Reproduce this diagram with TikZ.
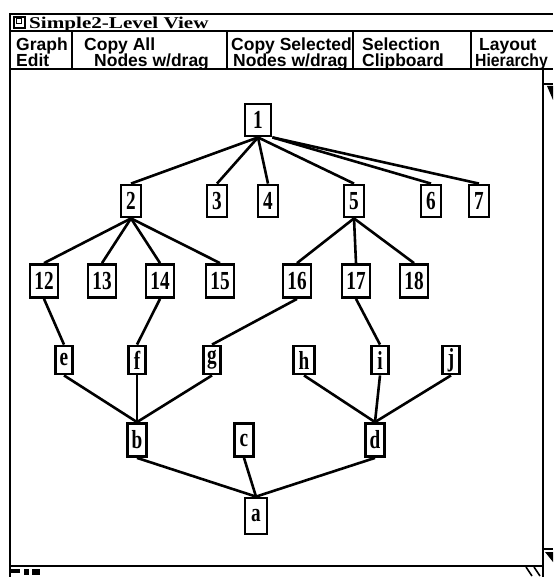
\documentclass[tikz,border=0pt]{standalone}
\usepackage{graphicx}
\usepackage{fontspec}
\setmainfont{Liberation Serif}
\newfontfamily\menufont{Liberation Sans}
\newcommand\nfont{\fontsize{26}{26}\selectfont\bfseries}
\newcommand\lbl[1]{\scalebox{0.74}[1]{#1}}
\begin{document}
\begin{tikzpicture}[x=1pt,y=-1pt,
  frame/.style={line width=2pt},
  nd/.style={draw, line width=2.8pt, fill=white, inner sep=0pt, font=\nfont},
  nA/.style={nd, minimum width=20pt, minimum height=32pt},
  nB/.style={nd, minimum width=28pt, minimum height=33pt},
  nC/.style={nd, minimum width=17pt, minimum height=28pt},
  nD/.style={nd, minimum width=19pt, minimum height=33pt},
  edge/.style={line width=2.6pt},
  menu/.style={font=\menufont\fontsize{17.5}{17.5}\selectfont\bfseries, inner sep=0pt, anchor=base west},
  ttl/.style={font=\fontsize{16.5}{16.5}\selectfont\bfseries, inner sep=0pt, anchor=base west}]
\useasboundingbox (0,0) rectangle (553,577);
\clip (0,0) rectangle (553,577);

% window frame
\draw[frame, line width=1.6pt] (10,577) -- (10,14) -- (553,14);
\draw[frame, line width=1.4pt] (10,31) -- (553,31);
\draw[frame, line width=2.6pt] (10,69) -- (553,69);
\draw[frame, line width=2.6pt] (10,69) -- (10,577);
\draw[frame] (72,31) -- (72,69);
\draw[frame] (227,31) -- (227,69);
\draw[frame] (353,31) -- (353,69);
\draw[frame] (471,31) -- (471,69);
\draw[frame] (10,566) -- (543,566);
\draw[frame] (543,69) -- (543,577);

% title icon and text
\draw[line width=1.2pt] (14,17) rectangle (25,28);
\draw[line width=1pt] (16,19) rectangle (21,24);
\node[ttl] (title) at (29,28.5) {\scalebox{1.28}[1]{Simple2-Level View}};

% menu
\node[menu] (mgraph) at (16,51) {Graph};
\node[menu] (medit) at (16,67) {Edit};
\node[menu] (mcopyall) at (84,51) {Copy All};
\node[menu] (mnodes1) at (94,67) {Nodes w/drag};
\node[menu] (mcopysel) at (231,51) {Copy Selected};
\node[menu] (mnodes2) at (233,67) {Nodes w/drag};
\node[menu] (msel) at (362,51) {Selection};
\node[menu] (mclip) at (362,67) {Clipboard};
\node[menu] (mlayout) at (479,51) {Layout};
\node[menu] (mhier) at (475,67) {\scalebox{0.9}[1]{Hierarchy}};

% scroll bar bits
\draw[line width=1.4pt] (543,84) -- (553,84);
\fill (547,86) -- (553,86) -- (553,100) -- cycle;
\draw[line width=1.4pt] (543,549) -- (553,549);
\fill (545,552) -- (553,552) -- (553,562) -- cycle;
\fill (11,569) rectangle (20,573);
\fill (24,569) rectangle (29,575);
\fill (32,569) rectangle (40,575);
\draw[line width=1.6pt] (526,567) -- (532,576);
\draw[line width=1.6pt] (534,567) -- (540,576);

% edges (drawn first, nodes are filled white on top)
\coordinate (c1) at (258,120);
\node[nA, minimum width=26pt] (n1) at (258,120) {\lbl{1}};
\node[nA] (n2) at (131,201) {\lbl{2}};
\node[nA] (n3) at (217,201) {\lbl{3}};
\node[nA] (n4) at (268,201) {\lbl{4}};
\node[nA] (n5) at (354,201) {\lbl{5}};
\node[nA] (n6) at (431,201) {\lbl{6}};
\node[nA] (n7) at (479,201) {\lbl{7}};
\node[nB] (n12) at (44,281) {\lbl{12}};
\node[nB] (n13) at (102,281) {\lbl{13}};
\node[nB] (n14) at (160,281) {\lbl{14}};
\node[nB] (n15) at (220,281) {\lbl{15}};
\node[nB] (n16) at (297,281) {\lbl{16}};
\node[nB] (n17) at (356,281) {\lbl{17}};
\node[nB] (n18) at (414,281) {\lbl{18}};
\node[nC] (ne) at (64,360) {\lbl{e}};
\node[nC] (nf) at (137,360) {\lbl{f}};
\node[nC] (ng) at (212,360) {\lbl{g}};
\node[nC, minimum width=21pt] (nh) at (304,360) {\lbl{h}};
\node[nC] (ni) at (380,360) {\lbl{i}};
\node[nC] (nj) at (451,360) {\lbl{j}};
\node[nD] (nb) at (137,440) {\lbl{b}};
\node[nD] (nc) at (244,440) {\lbl{c}};
\node[nD] (nd) at (375,440) {\lbl{d}};
\node[nD, minimum width=22pt, minimum height=36pt] (na) at (256,516) {\lbl{a}};

\foreach \p/\c in {n1/n2,n1/n3,n1/n4,n1/n5,
  n2/n12,n2/n13,n2/n14,n2/n15,n5/n16,n5/n17,n5/n18,
  n12/ne,n14/nf,n16/ng,n17/ni,
  ne/nb,nf/nb,ng/nb,nh/nd,ni/nd,nj/nd,
  nb/na,nc/na,nd/na}
  \draw[edge] (\p.south) -- (\c.north);
\draw[edge] (n1.south east) -- (n6.north);
\draw[edge] (n1.south east) -- (n7.north);
\end{tikzpicture}
\end{document}
